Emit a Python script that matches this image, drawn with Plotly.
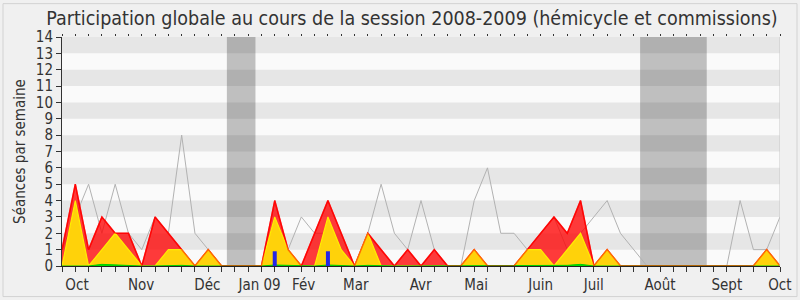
import plotly.graph_objects as go

weeks = list(range(55))
presence = [1, 5, 1, 3, 2, 2, 0, 3, 2, 1, 0, 1, 0, 0, 0, 0, 4, 1, 0, 2, 4, 2, 0, 2, 1, 0, 1, 0,
            1, 0, 0, 1, 0, 0, 0, 1, 2, 3, 2, 4, 0, 1, 0, 0, 0, 0, 0, 0, 0, 0, 0, 0, 0, 1, 0]
participation = [0, 4, 0, 1, 2, 1, 0, 0, 1, 1, 0, 1, 0, 0, 0, 0, 3, 1, 0, 0, 3, 1, 0, 2, 0, 0, 0, 0,
                 0, 0, 0, 1, 0, 0, 0, 1, 1, 0, 1, 2, 0, 1, 0, 0, 0, 0, 0, 0, 0, 0, 0, 0, 0, 1, 0]
mots = [0, 0, 0, 0.1, 0.06, 0.04, 0, 0, 0.04, 0.04, 0, 0, 0, 0, 0, 0, 0.06, 0.04, 0, 0, 0.06, 0.04, 0, 0.04,
        0, 0, 0, 0, 0, 0, 0, 0, 0, 0, 0, 0, 0.04, 0, 0.04, 0.1, 0, 0, 0, 0, 0, 0, 0, 0, 0, 0, 0, 0, 0, 0.04, 0]
questions = [0] * 16 + [0.9, 0, 0, 0, 0.9] + [0] * 34
mediane = [1, 3, 5, 2, 5, 2, 1, 3, 2, 8, 2, 1, 0, 0, 0, 0, 2, 1, 3, 2, 2, 1, 0, 2, 5, 2, 1, 4,
           1, 0, 0, 4, 6, 2, 2, 1, 2, 3, 1, 2, 3, 4, 2, 1, 0, 0, 0, 0, 0, 0, 0, 4, 1, 1, 3]
vacances = [(12.4, 14.55), (43.48, 48.49)]
month_pos = [1.13, 5.95, 10.93, 14.86, 18.17, 22.1, 26.97, 31.15, 36.0, 40.0, 44.98, 50.0, 53.99]
month_lbl = ["Oct", "Nov", "Déc", "Jan 09", "Fév", "Mar", "Avr", "Mai", "Juin", "Juil", "Août", "Sept", "Oct"]
y_ticks = list(range(15))

FONT = "DejaVu Sans Condensed, DejaVu Sans, sans-serif"

# vertical bar segments for questions, built from the data
qx, qy = [], []
for w, q in zip(weeks, questions):
    if q > 0:
        qx += [w, w, None]
        qy += [0, q, None]

fig = go.Figure()
fig.add_trace(go.Scatter(x=weeks, y=mediane, mode="lines", line=dict(color="#b2b2b2", width=1)))
fig.add_trace(go.Scatter(x=weeks, y=presence, mode="lines", fill="tozeroy",
                         fillcolor="rgba(255,0,0,0.77)", line=dict(color="rgba(255,0,0,0.9)", width=1.5)))
fig.add_trace(go.Scatter(x=weeks, y=participation, mode="lines", fill="tozeroy",
                         fillcolor="#ffd20a", line=dict(color="#ffee00", width=1.2)))
fig.add_trace(go.Scatter(x=weeks, y=mots, mode="lines", fill="tozeroy",
                         fillcolor="#00e000", line=dict(color="#00cc00", width=1)))
fig.add_trace(go.Scatter(x=qx, y=qy, mode="lines", line=dict(color="#2626e6", width=4)))
fig.add_trace(go.Scatter(x=weeks, y=presence, mode="lines",
                         line=dict(color="rgba(255,0,0,0.55)", width=1.3)))

shapes = []
for a, b in vacances:
    shapes.append(dict(type="rect", xref="x", yref="y", x0=a, x1=b, y0=0, y1=14,
                       fillcolor="#bfbfbf", line=dict(width=0), layer="below"))
for k in range(1, 14, 2):
    shapes.append(dict(type="rect", xref="x", yref="y", x0=0, x1=54, y0=k, y1=k + 1,
                       fillcolor="rgba(0,0,0,0.08)", line=dict(width=0), layer="below"))
shapes.append(dict(type="line", xref="x", yref="y", x0=54, x1=54, y0=0, y1=14,
                   line=dict(color="#c8c8c8", width=1)))
shapes.append(dict(type="rect", xref="paper", yref="paper",
                   x0=(3 - 62) / 718, x1=(797 - 62) / 718,
                   y0=-(297 - 266.3) / 229.8, y1=1 + (36.5 - 3) / 229.8,
                   line=dict(color="#d2d2d2", width=1), fillcolor="rgba(0,0,0,0)", layer="below"))

fig.update_layout(
    width=800, height=300,
    margin=dict(l=62, r=20, t=36.5, b=33.7, autoexpand=False),
    paper_bgcolor="#f0f0f0", plot_bgcolor="#fafafa",
    showlegend=False,
    font=dict(family=FONT, size=14, color="#333333"),
    title=dict(text="Participation globale au cours de la session 2008-2009 (hémicycle et commissions)",
               x=0.515, xanchor="center", y=1 - 18 / 300, yanchor="middle", automargin=False,
               font=dict(family=FONT, size=19.5, color="#333333")),
    shapes=shapes,
    xaxis=dict(range=[0, 54], tickmode="array", tickvals=month_pos, ticktext=month_lbl, automargin=False,
               ticks="outside", ticklen=5, tickcolor="rgba(0,0,0,0)", showgrid=False, zeroline=False,
               showline=True, linecolor="#222222", linewidth=1,
               tickfont=dict(family=FONT, size=15, color="#333333"),
               minor=dict(tickmode="linear", tick0=0, dtick=1, ticks="outside", ticklen=5,
                          tickcolor="#333333", showgrid=False)),
    xaxis2=dict(range=[0, 54], overlaying="x", side="top", anchor="y", tickmode="linear", tick0=0, dtick=1,
                ticks="outside", ticklen=2, tickcolor="#333333", showticklabels=False, automargin=False,
                showgrid=False, zeroline=False, showline=False),
    yaxis=dict(range=[0, 14], tickmode="array", tickvals=y_ticks, ticks="outside", ticklen=5, automargin=False,
               tickcolor="#333333", showgrid=False, zeroline=False, showline=True, linecolor="#333333",
               tickfont=dict(family=FONT, size=15, color="#333333"),
               title=dict(text="Séances par semaine", standoff=6,
                          font=dict(family=FONT, size=15, color="#333333"))),
)
fig.add_trace(go.Scatter(x=[0], y=[0], xaxis="x2", mode="markers", marker=dict(opacity=0), hoverinfo="skip"))

fig.write_html("out.html", config={"displayModeBar": False},
               post_script="document.body.style.margin='0';")
